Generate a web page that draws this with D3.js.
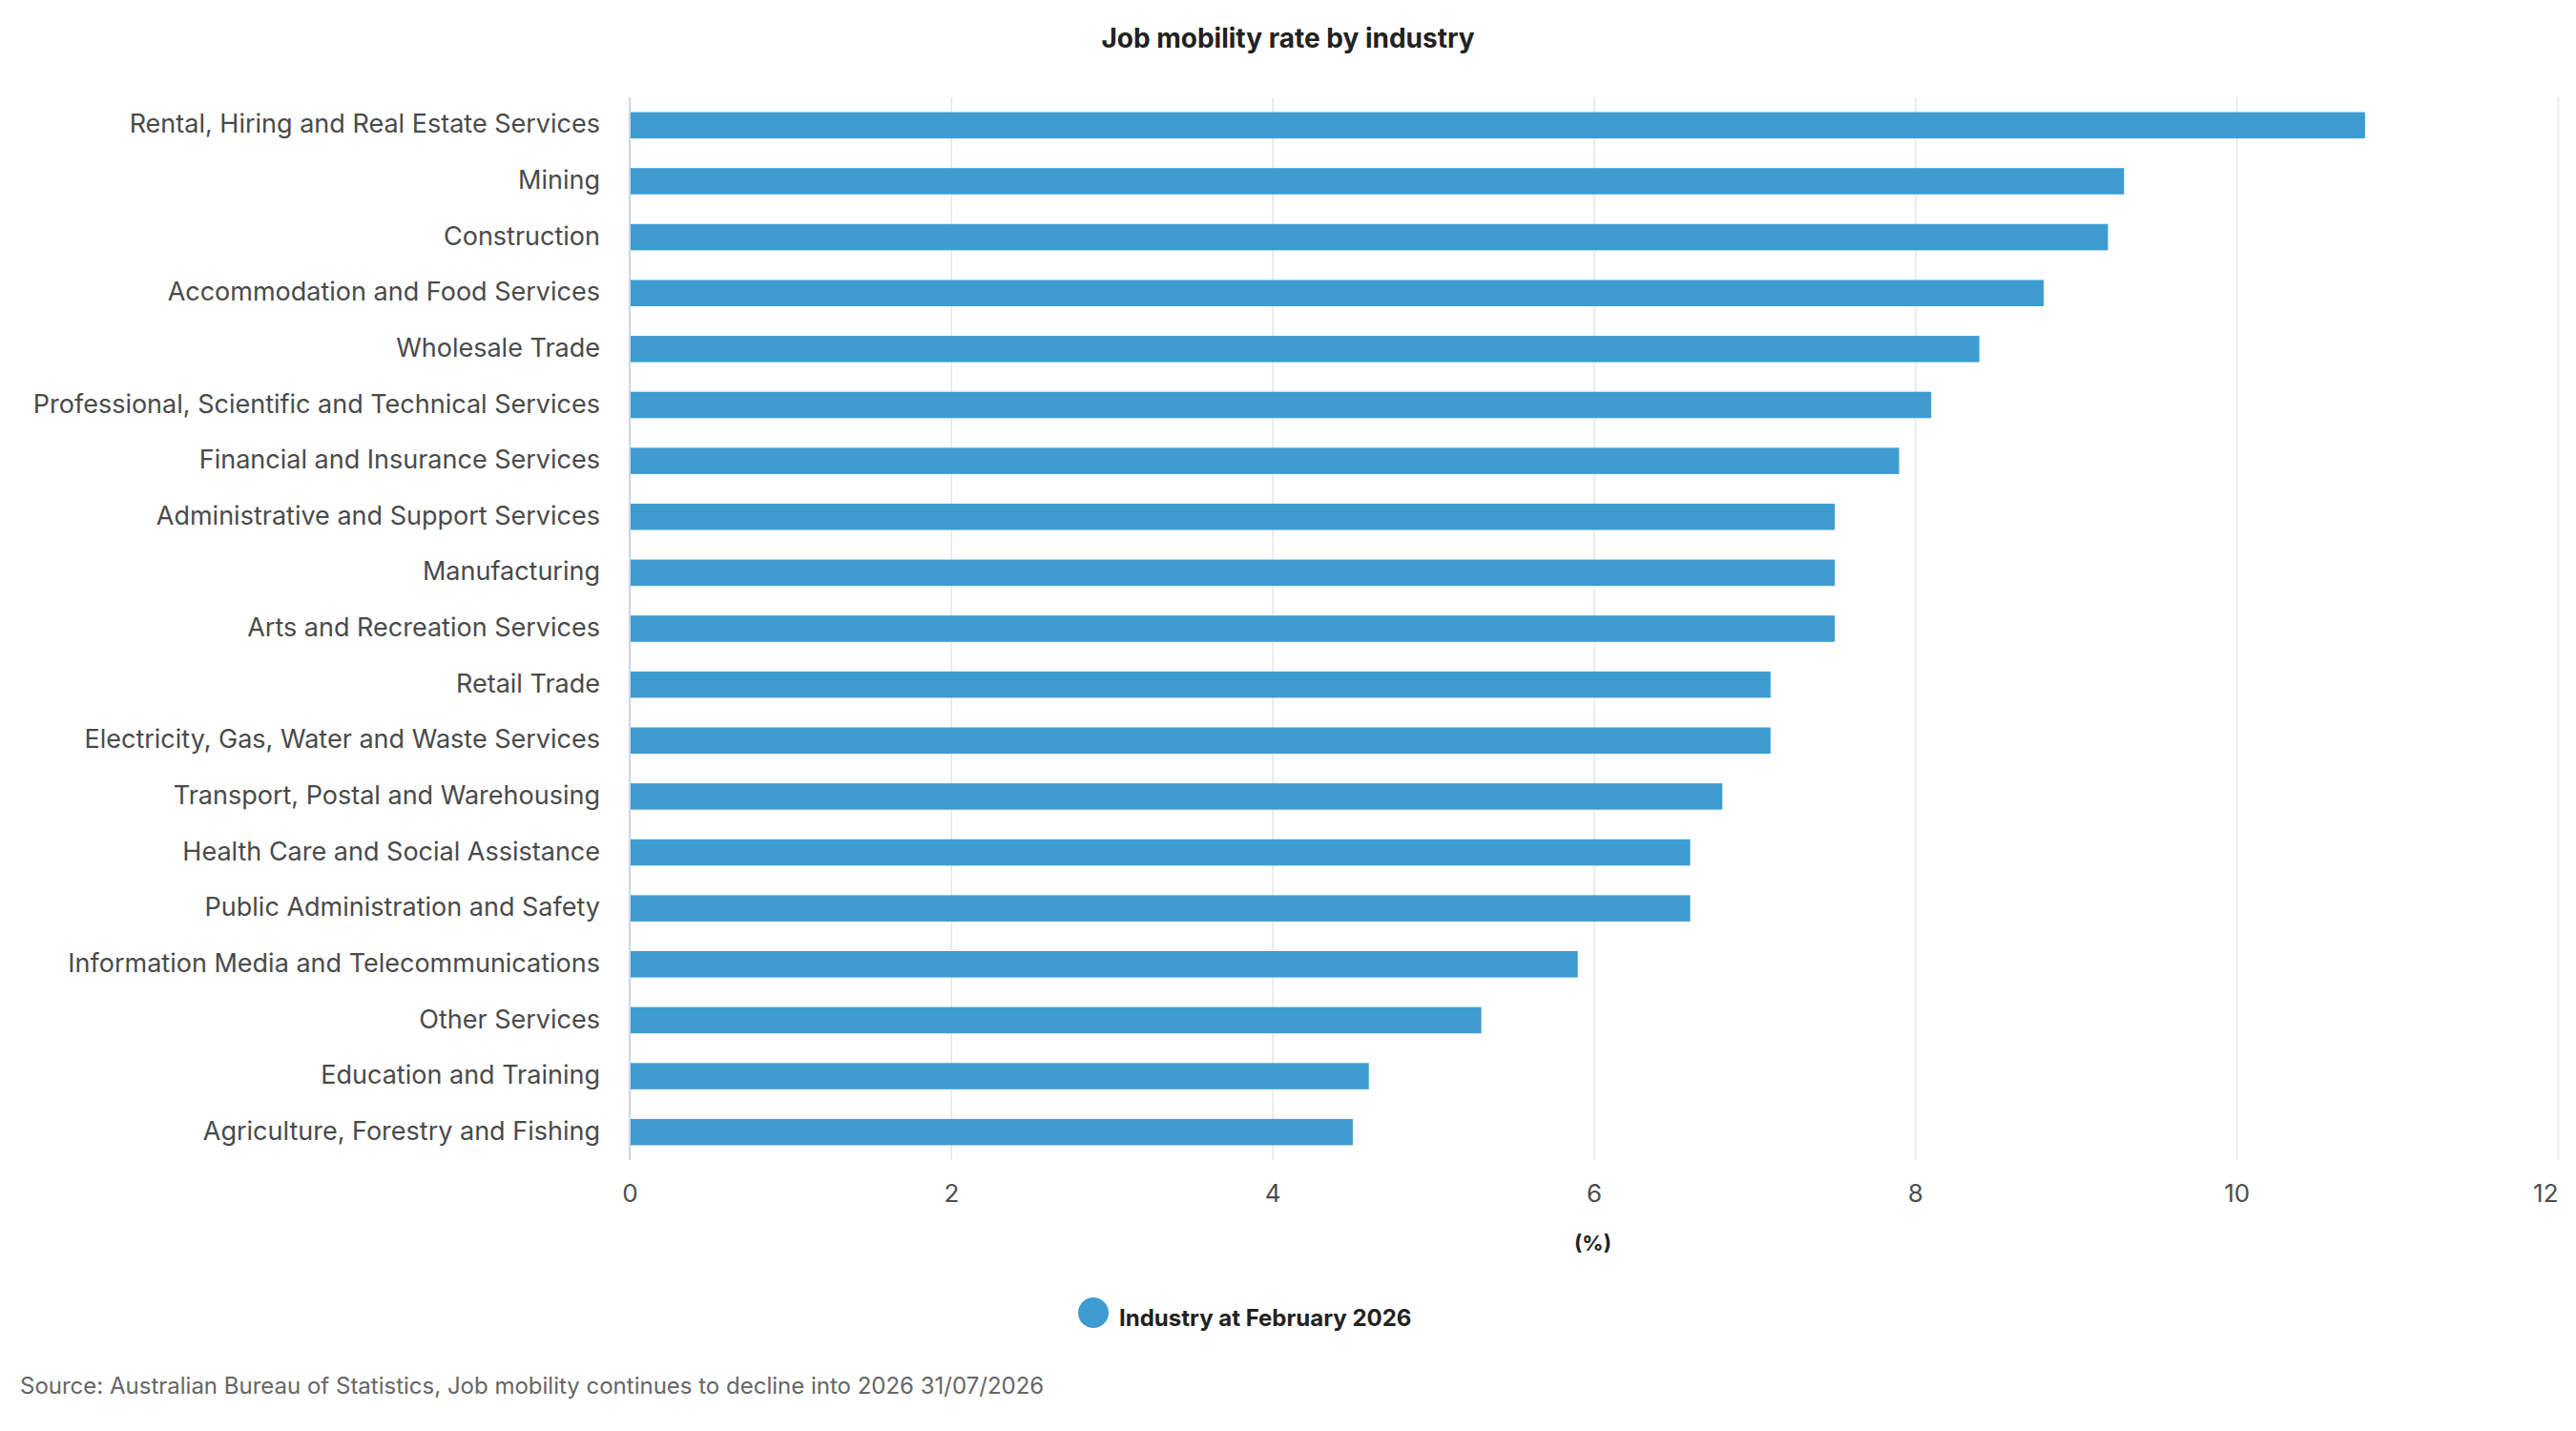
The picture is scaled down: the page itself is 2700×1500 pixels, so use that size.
<!DOCTYPE html>
<html>
<head>
<meta charset="utf-8">
<script src="https://cdn.jsdelivr.net/npm/d3@7"></script>
<style>
  html, body { margin: 0; padding: 0; background: #fff; }
  svg { display: block; font-family: Inter, 'Noto Sans', sans-serif; }
</style>
</head>
<body>
<svg id="chart"></svg>
<script>
const industries = [
  'Rental, Hiring and Real Estate Services',
  'Mining',
  'Construction',
  'Accommodation and Food Services',
  'Wholesale Trade',
  'Professional, Scientific and Technical Services',
  'Financial and Insurance Services',
  'Administrative and Support Services',
  'Manufacturing',
  'Arts and Recreation Services',
  'Retail Trade',
  'Electricity, Gas, Water and Waste Services',
  'Transport, Postal and Warehousing',
  'Health Care and Social Assistance',
  'Public Administration and Safety',
  'Information Media and Telecommunications',
  'Other Services',
  'Education and Training',
  'Agriculture, Forestry and Fishing',
]
const mobilityRate = [10.8, 9.3, 9.2, 8.8, 8.4, 8.1, 7.9, 7.5, 7.5, 7.5, 7.1, 7.1, 6.8, 6.6, 6.6, 5.9, 5.3, 4.6, 4.5]
const xTicks = [0, 2, 4, 6, 8, 10, 12]
const seriesName = 'Industry at February 2026'
const titleText = 'Job mobility rate by industry'
const axisTitle = '(%)'
const sourceText = 'Source: Australian Bureau of Statistics, Job mobility continues to decline into 2026 31/07/2026'

const width = 2700
const height = 1500
const margin = { top: 102, right: 19, bottom: 284, left: 660 }
const barColor = '#3e9cd1'

const svg = d3.select('#chart')
  .attr('width', width)
  .attr('height', height)
  .attr('viewBox', [0, 0, width, height])

const data = industries.map((name, i) => ({ name, value: mobilityRate[i] }))

const x = d3.scaleLinear()
  .domain([0, 12])
  .range([margin.left, width - margin.right])

const y = d3.scaleBand()
  .domain(industries)
  .range([margin.top, height - margin.bottom])
  .paddingInner(0.53)
  .paddingOuter(0.265)

// title
svg.append('text')
  .attr('x', width / 2)
  .attr('y', 50)
  .attr('text-anchor', 'middle')
  .attr('fill', '#222')
  .style('font-size', '28px')
  .style('font-weight', 'bold')
  .text(titleText)

// grid lines
const grid = svg.append('g')
  .attr('transform', `translate(0,${height - margin.bottom})`)
  .call(d3.axisBottom(x).tickValues(xTicks).tickSize(-(height - margin.top - margin.bottom)).tickFormat(''))
grid.select('.domain').remove()
grid.selectAll('.tick line')
  .attr('stroke', '#e6e6e6')
  .attr('stroke-width', 1.5)

// tick labels, last one kept inside the chart
const xAxis = svg.append('g')
  .attr('transform', `translate(0,${height - margin.bottom})`)
  .call(d3.axisBottom(x).tickValues(xTicks).tickSize(0).tickPadding(0).tickFormat(d3.format('d')))
xAxis.select('.domain').remove()
xAxis.selectAll('.tick text')
  .attr('dy', null)
  .attr('y', 44)
  .attr('fill', '#4d4d4d')
  .attr('text-anchor', (d, i) => (i === xTicks.length - 1 ? 'end' : 'middle'))
  .style('font-size', '26px')
  .style('font-family', 'Inter, sans-serif')

// axis title
svg.append('text')
  .attr('x', x(6) - 1)
  .attr('y', 1311)
  .attr('text-anchor', 'middle')
  .attr('fill', '#222')
  .style('font-size', '22px')
  .style('font-weight', 'bold')
  .text(axisTitle)

// bars
svg.append('g')
  .selectAll('rect')
  .data(data)
  .join('rect')
  .attr('x', x(0))
  .attr('y', d => y(d.name))
  .attr('width', d => x(d.value) - x(0))
  .attr('height', y.bandwidth())
  .attr('fill', barColor)

// category axis
const yAxis = svg.append('g')
  .attr('transform', `translate(${x(0)},0)`)
  .call(d3.axisLeft(y).tickSize(0).tickPadding(31))
yAxis.select('.domain')
  .attr('stroke', '#ccd6eb')
  .attr('stroke-width', 2)
  .attr('d', `M0,${margin.top}V${height - margin.bottom}`)
yAxis.selectAll('.tick text')
  .attr('dy', '0.3em')
  .attr('fill', '#4a4a4a')
  .style('font-size', '27px')
  .style('font-family', 'Inter, sans-serif')

// legend
const legend = svg.append('g').attr('transform', 'translate(1146,1376)')
legend.append('circle')
  .attr('r', 16)
  .attr('fill', barColor)
legend.append('text')
  .attr('x', 27)
  .attr('y', 14)
  .attr('fill', '#222')
  .style('font-size', '24px')
  .style('font-weight', 'bold')
  .text(seriesName)

// source
svg.append('text')
  .attr('x', 21)
  .attr('y', 1461)
  .attr('fill', '#666')
  .style('font-size', '24px')
  .text(sourceText)
</script>
</body>
</html>
